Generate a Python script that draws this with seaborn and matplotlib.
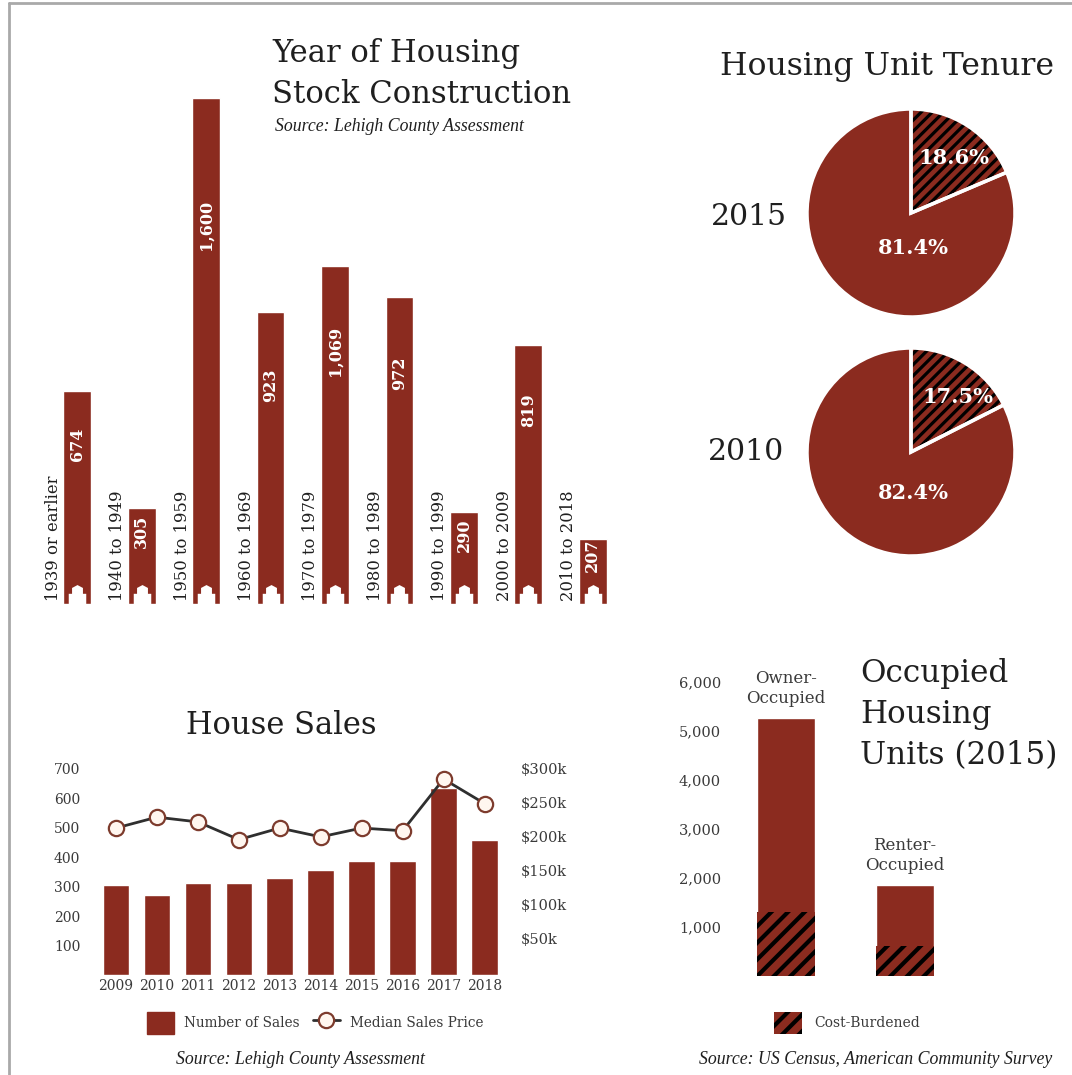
import matplotlib
matplotlib.use("Agg")
import matplotlib.pyplot as plt
import seaborn as sns
from matplotlib.lines import Line2D
from matplotlib.patches import Patch
from matplotlib.path import Path

sns.set_theme(style="white")
plt.rcParams["font.family"] = ["DejaVu Serif"]

RED = "#8B2B1F"
INK = "#1f1f1f"
GREY = "#3a3a3a"
W, H = 1072, 1075

# Housing stock by decade built
decades = ["1939 or earlier", "1940 to 1949", "1950 to 1959", "1960 to 1969", "1970 to 1979",
           "1980 to 1989", "1990 to 1999", "2000 to 2009", "2010 to 2018"]
units_built = [674, 305, 1600, 923, 1069, 972, 290, 819, 207]

# Tenure shares (renter share, owner share)
tenure_years = ["2015", "2010"]
tenure_2015 = [18.6, 81.4]
tenure_2010 = [17.5, 82.4]

# Annual house sales
sale_years = ["2009", "2010", "2011", "2012", "2013", "2014", "2015", "2016", "2017", "2018"]
sales_count = [305, 271, 312, 312, 330, 357, 385, 385, 634, 458]
median_price = [213, 229, 222, 196, 213, 200, 213, 209, 285, 249]
sales_ticks = [100, 200, 300, 400, 500, 600, 700]
price_ticks = [50, 100, 150, 200, 250, 300]

# Occupied units, 2015
occupancy = ["Owner-\nOccupied", "Renter-\nOccupied"]
occupied_total = [5265, 1857]
cost_burdened = [1300, 612]
occupied_ticks = [1000, 2000, 3000, 4000, 5000, 6000]

fig = plt.figure(figsize=(W / 100, H / 100), dpi=100, facecolor="white")


def box(left, top, right, bottom):
    """Axes placed by pixel edges, measured from the top-left corner."""
    ax = fig.add_axes([left / W, 1 - bottom / H, (right - left) / W, (bottom - top) / H])
    ax.set_facecolor("none")
    sns.despine(ax=ax, left=True, bottom=True)
    return ax


def label(x, y, s, size, **kw):
    kw.setdefault("color", INK)
    fig.text(x / W, 1 - y / H, s, fontsize=size, **kw)


def source(x, y, s, **kw):
    label(x, y, s, 12.8, family="Liberation Serif", style="italic", **kw)


# Frame along the top and left of the sheet
for xs, ys in [((9, 9), (3, 1075)), ((9, 1072), (3, 3))]:
    fig.add_artist(Line2D([x / W for x in xs], [1 - y / H for y in ys], color="#a9a9a9", lw=2))

# ---- Year of construction ----
ax = box(45, 98, 625, 604)
sns.barplot(x=decades, y=units_built, color=RED, saturation=1, width=0.43, ax=ax)
ax.set_xlim(-0.5, 8.5)
ax.set_ylim(0, 1600)
ax.set(xticks=[], yticks=[], xlabel="", ylabel="")
house = Path([(-0.45, 0), (-0.45, 0.55), (-0.28, 0.55), (-0.28, 0.85), (0, 1), (0.28, 0.85),
              (0.28, 0.55), (0.45, 0.55), (0.45, 0), (-0.45, 0)], closed=True)
ax.plot(range(len(decades)), [0] * len(decades), ls="none", marker=house, ms=28,
        mfc="white", mec="none", clip_on=False)
for i, (name, val) in enumerate(zip(decades, units_built)):
    ax.annotate(name, (i, 0), xytext=(-24, 3), textcoords="offset pixels", rotation=90,
                ha="center", va="bottom", fontsize=11.8, color=INK)
    ax.text(i, val * 0.75, f"{val:,}", rotation=90, ha="center", va="center",
            color="white", fontsize=11.5, fontweight="bold")

label(272, 62, "Year of Housing", 22.1)
label(272, 103, "Stock Construction", 22.1)
source(275, 131, "Source: Lehigh County Assessment")

# ---- Tenure pies ----
label(720, 75, "Housing Unit Tenure", 22.7)
pie_rows = [(tenure_2015, tenure_years[0], 213, 711, 0.41, -0.34, 217),
            (tenure_2010, tenure_years[1], 452, 708, 0.45, -0.39, 452)]
for shares, year, cy, year_x, high_x, low_y, year_y in pie_rows:
    ax = box(807, cy - 104, 1015, cy + 104)
    plt.rcParams["hatch.linewidth"] = 2.3
    wedges, _ = ax.pie(shares, startangle=90, counterclock=False, radius=1, colors=[RED, RED],
                       wedgeprops={"linewidth": 0})
    wedges[0].set_hatch("///")
    wedges[0].set_edgecolor("black")
    ax.pie(shares, startangle=90, counterclock=False, radius=1,
           wedgeprops={"fill": False, "edgecolor": "white", "linewidth": 2.5})
    ax.set_xlim(-1, 1)
    ax.set_ylim(-1, 1)
    ax.text(high_x, 0.53, f"{shares[0]}%", ha="center", va="center", color="white",
            fontsize=15, fontweight="bold")
    ax.text(0.02, low_y, f"{shares[1]}%", ha="center", va="center", color="white",
            fontsize=15, fontweight="bold")
    label(year_x, year_y, year, 21.5, va="center")

# ---- House sales ----
ax = box(95.5, 760, 505, 975)
sns.barplot(x=sale_years, y=sales_count, color=RED, saturation=1, width=0.65, ax=ax)
ax.set_xlim(-0.5, 9.5)
ax.set_ylim(0, 729)
ax.set_yticks(sales_ticks)
ax.set(xlabel="", ylabel="")
ax.tick_params(axis="y", length=0, pad=11, labelsize=10, labelcolor=GREY)
ax.tick_params(axis="x", length=0, pad=3, labelsize=10, labelcolor=GREY)

ax2 = ax.twinx()
ax2.set_facecolor("none")
sns.despine(ax=ax2, left=True, bottom=True, right=True)
sns.lineplot(x=range(len(sale_years)), y=median_price, ax=ax2, color="#2f2f2f", lw=2,
             marker="o", ms=11, mfc="#fff6ef", mec="#7d3b2d", mew=1.6)
ax2.set_ylim(-3, 313)
ax2.set_yticks(price_ticks, [f"${p}k" for p in price_ticks])
ax2.set(xlabel="", ylabel="")
ax2.tick_params(axis="y", length=0, pad=11, labelsize=10.5, labelcolor=GREY)

label(186, 734, "House Sales", 22)
fig.legend(handles=[Patch(color=RED, label="Number of Sales"),
                    Line2D([], [], color="#2f2f2f", lw=2, marker="o", ms=11, mfc="#fff6ef",
                           mec="#7d3b2d", mew=1.6, label="Median Sales Price")],
           loc="center", bbox_to_anchor=(315 / W, 1 - 1023 / H), ncols=2, frameon=False,
           fontsize=9.8, labelcolor=GREY, handlelength=2.0, handleheight=2.0,
           handletextpad=0.7, columnspacing=1.0, borderpad=0)
source(176, 1064, "Source: Lehigh County Assessment")

# ---- Occupied housing units ----
ax = box(726.5, 668, 964.5, 976)
sns.barplot(x=occupancy, y=occupied_total, color=RED, saturation=1, width=0.487, ax=ax)
plt.rcParams["hatch.linewidth"] = 3.0
sns.barplot(x=occupancy, y=cost_burdened, color=RED, saturation=1, width=0.487, ax=ax,
            hatch="//", edgecolor="black", linewidth=0)
ax.set_xlim(-0.5, 1.5)
ax.set_ylim(0, 6290)
ax.set_yticks(occupied_ticks, [f"{t:,}" for t in occupied_ticks])
ax.set_xticks([])
ax.set(xlabel="", ylabel="")
ax.tick_params(axis="y", length=0, pad=4, labelsize=10.5, labelcolor=GREY)
for i, (name, val) in enumerate(zip(occupancy, occupied_total)):
    ax.annotate(name, (i, val), xytext=(0, 11), textcoords="offset pixels", ha="center",
                va="bottom", fontsize=12, color=GREY, linespacing=1.25)

label(860, 682, "Occupied", 22.3)
label(860, 723, "Housing", 22.3)
label(860, 764, "Units (2015)", 22.3)
fig.legend(handles=[Patch(facecolor=RED, edgecolor="black", linewidth=0, hatch="//", label="Cost-Burdened")],
           loc="center", bbox_to_anchor=(847 / W, 1 - 1023 / H), frameon=False, fontsize=10,
           labelcolor=GREY, handlelength=2.0, handleheight=2.0, handletextpad=0.9, borderpad=0)
source(699, 1064, "Source: US Census, American Community Survey")

fig.savefig("out.png", dpi=100, facecolor="white")
